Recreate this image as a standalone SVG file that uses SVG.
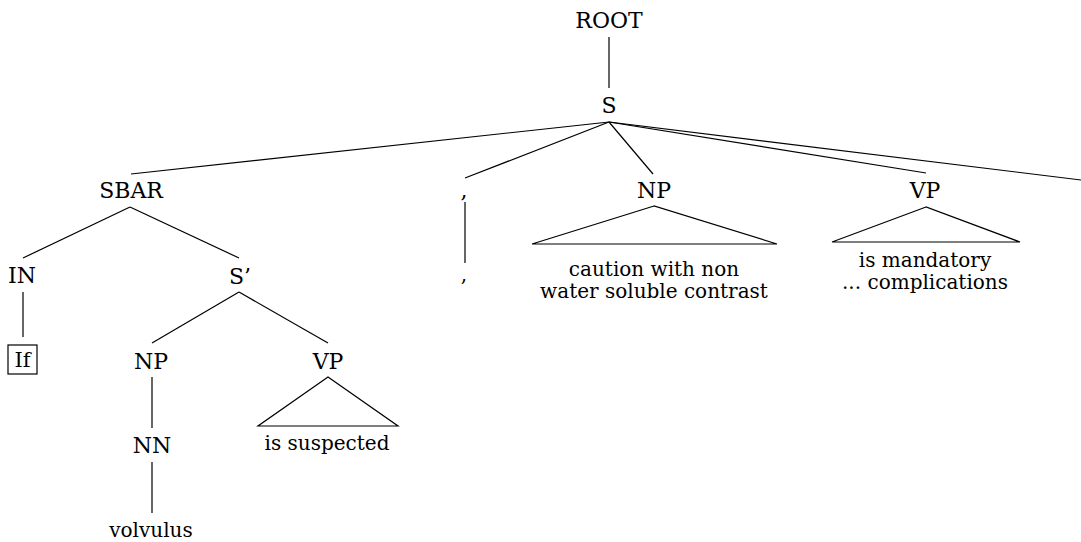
<svg xmlns="http://www.w3.org/2000/svg" width="1081" height="542" viewBox="0 0 1081 542">
<style>
text{font-family:'DejaVu Serif',serif;font-size:22px;fill:#000;text-anchor:middle}
text.leaf{font-size:20px}
.e{stroke:#000;stroke-width:1.2;fill:none}
.tri{stroke:#000;stroke-width:1.2;fill:none;stroke-linejoin:miter}
</style>
<rect width="1081" height="542" fill="#fff"/>
<g id="connectors">
<line class="e" x1="609" y1="37" x2="609" y2="88"/>
<line class="e" x1="609" y1="122" x2="131" y2="174"/>
<line class="e" x1="609" y1="122" x2="465" y2="178"/>
<line class="e" x1="609" y1="122" x2="653" y2="174"/>
<line class="e" x1="609" y1="122" x2="926" y2="173"/>
<line class="e" x1="609" y1="122" x2="1081" y2="180"/>
<line class="e" x1="130" y1="207" x2="23" y2="258"/>
<line class="e" x1="130" y1="207" x2="239" y2="258"/>
<line class="e" x1="23" y1="292" x2="23" y2="337"/>
<line class="e" x1="239" y1="292" x2="152" y2="343"/>
<line class="e" x1="239" y1="292" x2="328" y2="343"/>
<line class="e" x1="152" y1="377" x2="152" y2="428"/>
<line class="e" x1="152" y1="462" x2="152" y2="513"/>
<line class="e" x1="465" y1="202" x2="465" y2="263"/>
</g>
<g id="root"><text x="609" y="28">ROOT</text></g>
<g id="s"><text x="609" y="113">S</text></g>
<g id="sbar"><text x="131" y="198">SBAR</text></g>
<g id="in"><text x="22" y="283">IN</text></g>
<g id="if"><rect x="8" y="345" width="29" height="29" fill="none" stroke="#000" stroke-width="1.2"/><text x="22.5" y="367" style="font-size:21px">If</text></g>
<g id="sprime"><text x="240" y="284">S’</text></g>
<g id="np2"><text x="151" y="369">NP</text></g>
<g id="nn"><text x="152" y="453">NN</text></g>
<g id="volvulus"><text class="leaf" x="151" y="537">volvulus</text></g>
<g id="vp2"><polygon class="tri" points="328,377 258,426 398,426"/><text x="328" y="369">VP</text><text class="leaf" x="327" y="450">is suspected</text></g>
<g id="comma"><text x="464" y="198">,</text></g>
<g id="comma-leaf"><text class="leaf" x="464" y="281">,</text></g>
<g id="np1"><polygon class="tri" points="654,206 532,244 777,244"/><text class="leaf" x="654" y="276">caution with non</text><text class="leaf" x="654" y="298">water soluble contrast</text><text x="654" y="198">NP</text></g>
<g id="vp1"><polygon class="tri" points="926,207 832,242 1020,242"/><text x="925" y="198">VP</text><text class="leaf" x="925" y="267">is mandatory</text><text class="leaf" x="925" y="289">... complications</text></g>
</svg>
